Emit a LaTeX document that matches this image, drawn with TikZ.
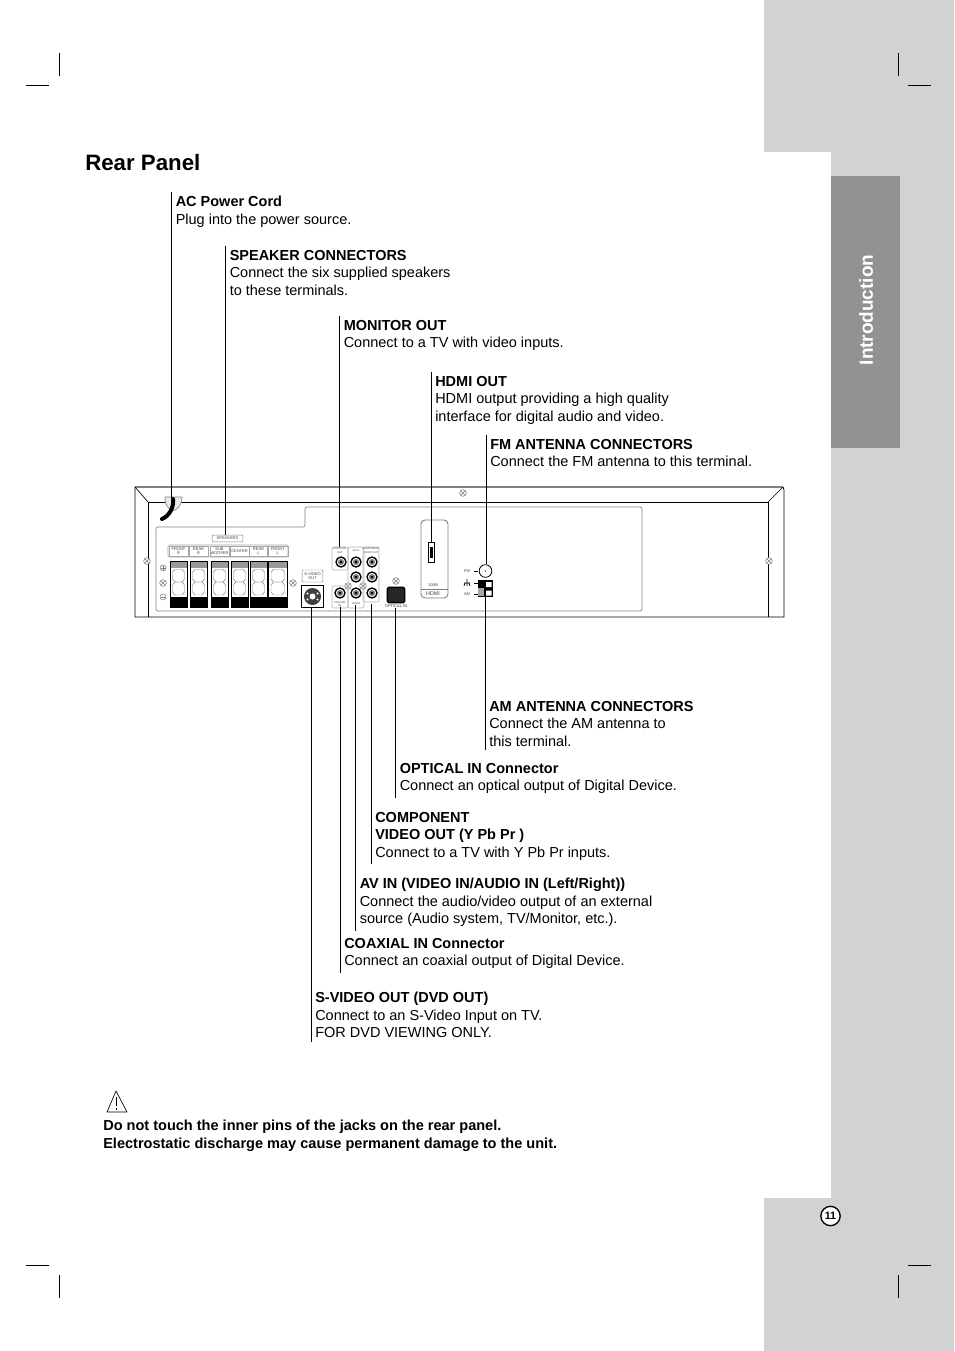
\documentclass[tikz,border=0pt]{standalone}
\usepackage{fontspec}
\setmainfont{Liberation Sans}
\definecolor{pagegray}{HTML}{D2D2D2}
\definecolor{tabgray}{HTML}{929292}
\definecolor{linegray}{HTML}{808080}
\begin{document}
\begin{tikzpicture}[x=0.75pt, y=-0.75pt,
  lead/.style={line width=0.6pt},
  crop/.style={line width=0.5pt},
  info/.style={anchor=north west, align=left, inner xsep=3pt, inner ysep=2.8pt, font=\fontsize{10.87}{13.2}\selectfont},
  warn/.style={anchor=north west, align=left, inner sep=0pt, font=\fontsize{10.9}{12.9}\selectfont\bfseries},
  tiny/.style={inner sep=0pt, align=center, text=black!75, font=\fontsize{3}{3.4}\selectfont},
  tinier/.style={inner sep=0pt, align=center, text=black!75, font=\fontsize{2}{2.5}\selectfont},
  tag/.style={draw=linegray, line width=0.35pt, rounded corners=0.8pt, inner sep=0pt, align=center, text=black!75, font=\fontsize{3}{3.4}\selectfont},
  jack/.style={circle, draw, line width=1pt, fill=white, minimum size=7.5pt, inner sep=0pt},
  screw/.style={circle, draw=linegray, line width=0.4pt, minimum size=5pt, inner sep=0pt, path picture={\draw[linegray, line width=0.4pt] (path picture bounding box.south west) -- (path picture bounding box.north east) (path picture bounding box.north west) -- (path picture bounding box.south east);}},
  panelbox/.style={draw=linegray!60, line width=0.4pt, rounded corners=1.5pt, inner sep=0pt}]
\useasboundingbox (0,0) rectangle (954,1351);
\fill[white] (0,0) rectangle (954,1351);
\fill[pagegray] (764,0) -- (954,0) -- (954,1351) -- (764,1351) -- (764,1198) -- (831,1198) -- (831,152) -- (764,152) -- cycle;
\fill[tabgray] (831,176) rectangle (900,448);
\node[rotate=90, text=white, font=\fontsize{14.2}{18}\selectfont\bfseries] (section) at (866,310) {Introduction};
\foreach \x/\xa in {59/26,898/908} {\draw[crop] (\x,53) -- (\x,76) (\xa,85) -- (\xa+23,85) (\x,1275) -- (\x,1298) (\xa,1265) -- (\xa+23,1265);}
\node[anchor=west, inner sep=0pt, font=\fontsize{16.7}{20}\selectfont\bfseries] (title) at (85,163) {Rear Panel};

\node[info] (aclabel) at (171.5,192) {\textbf{AC Power Cord}\\Plug into the power source.};
\node[info] (spklabel) at (225.5,246) {\textbf{SPEAKER CONNECTORS}\\Connect the six supplied speakers\\to these terminals.};
\node[info] (monlabel) at (339.5,316) {\textbf{MONITOR OUT}\\Connect to a TV with video inputs.};
\node[info] (hdmilabel) at (431,372) {\textbf{HDMI OUT}\\HDMI output providing a high quality\\interface for digital audio and video.};
\node[info] (fmlabel) at (486,435) {\textbf{FM ANTENNA CONNECTORS}\\Connect the FM antenna to this terminal.};
\node[info] (amlabel) at (485,697) {\textbf{AM ANTENNA CONNECTORS}\\Connect the AM antenna to\\this terminal.};
\node[info] (optlabel) at (395.5,759) {\textbf{OPTICAL IN Connector}\\Connect an optical output of Digital Device.};
\node[info] (complabel) at (371,808) {\textbf{COMPONENT}\\\textbf{VIDEO OUT (Y Pb Pr )}\\Connect to a TV with Y Pb Pr inputs.};
\node[info] (avlabel) at (355.5,874) {\textbf{AV IN (VIDEO IN/AUDIO IN (Left/Right))}\\Connect the audio/video output of an external\\source (Audio system, TV/Monitor, etc.).};
\node[info] (coaxlabel) at (340,934) {\textbf{COAXIAL IN Connector}\\Connect an coaxial output of Digital Device.};
\node[info] (svidlabel) at (311,988) {\textbf{S-VIDEO OUT (DVD OUT)}\\Connect to an S-Video Input on TV.\\FOR DVD VIEWING ONLY.};

\draw[linegray, line width=1.2pt] (135,487) -- (783,487);
\draw[line width=0.6pt] (135,487) -- (135,617) -- (784,617) -- (784,490) -- (783,487);
\draw[line width=0.6pt] (148,617) -- (148,502) -- (768,502) -- (768,617);
\draw[line width=0.5pt] (135,487) -- (148,502) (783,487) -- (768,502);
\draw[linegray, line width=0.5pt, rounded corners=1.5pt] (156,611) -- (156,527) -- (305,527) -- (305,507) -- (642,507) -- (642,611) -- cycle;
\foreach \n/\x/\y in {sa/147/561,sb/769/561,sc/463/493,sd/163/583,se/293/583,sf/396/581,sg/348/586,sh/363/586} {\node[screw, fill=white] (\n) at (\x,\y) {};}

\draw[linegray, line width=0.5pt, fill=black!8] (165,497) -- (182,497) .. controls (182,505) and (178,509) .. (173,511) .. controls (168,509) and (165,505) .. (165,497);
\draw[line width=3pt, line cap=round] (173,499) .. controls (174,508) and (169,516) .. (162,519);
\coordinate (plug) at (172,498);

\node[tag, minimum width=23pt, minimum height=5.2pt] (spkhead) at (227.5,538.5) {SPEAKERS};
\draw[linegray!70, line width=0.4pt, rounded corners=1pt] (168,545) rectangle (288,557);
\foreach \n/\xa/\xb/\t in {fr/170/187/{FRONT\\R},rr/190/207/{REAR\\R},sw/211/228/{SUB\\WOOFER},ct/231/248/{CENTER},rl/250/267/{REAR\\L},fl/268.5/287/{FRONT\\L}} {
  \node[tiny] (\n txt) at ({(\xa+\xb)/2},551) {\t};
  \draw[linegray!70, line width=0.3pt] (\xa-1,546) rectangle (\xb+1,556);
  \fill[black!40] (\xa,561) rectangle (\xb,568);
  \fill (\xa,597) rectangle (\xb,607);
  \draw[line width=0.7pt] (\xa,561) rectangle (\xb,607);
  \draw[black!50, line width=0.35pt] (\xa+2.5,572) -- (\xa+5,569.5) -- (\xb-5,569.5) -- (\xb-2.5,572) -- (\xb-2.5,579) -- (\xb-5,582) -- (\xa+5,582) -- (\xa+2.5,579) -- cycle;
  \draw[black!50, line width=0.35pt] (\xa+2.5,585) -- (\xa+5,582) -- (\xb-5,582) -- (\xb-2.5,585) -- (\xb-2.5,592) -- (\xb-5,595) -- (\xa+5,595) -- (\xa+2.5,592) -- cycle;
}
\node[circle, draw=linegray, line width=0.4pt, minimum size=4.5pt, inner sep=0pt] (plusmark) at (163,568) {};
\draw[linegray, line width=0.4pt] (160.5,568) -- (165.5,568) (163,565.5) -- (163,570.5);
\node[circle, draw=linegray, line width=0.4pt, minimum size=4.5pt, inner sep=0pt] (minusmark) at (163,597) {};
\draw[linegray, line width=0.4pt] (160.5,597) -- (165.5,597);

\node[tag, minimum width=15.5pt, minimum height=9pt] (svidhead) at (312.5,576) {S-VIDEO\\OUT};
\node[draw, line width=1pt, fill=white, minimum size=16.5pt, inner sep=0pt] (svid) at (312.5,596.5) {};
\fill[black!75] (svid.center) circle (8.5);
\fill[white] (312.5,596.5) circle (3);
\foreach \dx/\dy in {-5/-3,5/-3,-5/3,5/3} {\fill[white] (312.5+\dx,596.5+\dy) circle (1.2);}

\draw[panelbox] (332,547) rectangle (348,570);
\draw[panelbox] (332,586) rectangle (348,608);
\draw[panelbox] (348,547) rectangle (364,608);
\draw[panelbox] (363,547) rectangle (379,602);
\coordinate (monbox) at (339,547);
\node[tinier] (montxt) at (340,550.5) {MONITOR\\OUT};
\node[tinier] (avtxt) at (356,550.5) {AV IN};
\node[tinier] (comptxt) at (371,550.5) {COMPONENT\\VIDEO OUT};
\node[tinier] (coaxtxt) at (340,604) {COAXIAL\\IN};
\node[tinier] (vidtxt) at (356,604) {VIDEO};
\foreach \n/\x/\y in {monjack/341/562,ava/356/562,avb/356/577,avc/356/593,compa/372/562,compb/372/577,compc/372/593,coaxjack/340/593} {
  \node[jack] (\n) at (\x,\y) {};
  \fill[black!45] (\x,\y) circle (3.2);
  \fill (\x,\y) circle (1.6);
}

\node[fill=black!85, draw, line width=1pt, rounded corners=1pt, minimum width=13pt, minimum height=11.5pt, inner sep=0pt] (optical) at (396,595) {};
\node[tiny] (opttxt) at (396,606) {OPTICAL IN};

\draw[line width=0.7pt, draw=linegray, rounded corners=3pt] (421,520) rectangle (448,598);
\draw[linegray, line width=0.5pt] (421,589) -- (448,589);
\node[draw, line width=0.7pt, fill=white, minimum width=4.5pt, minimum height=15.5pt, inner sep=0pt] (hdmiport) at (431,552.5) {};
\fill (430,547) rectangle (432.5,558);
\node[tiny] (hdmires) at (433,585.5) {1080i};
\node[tiny, font=\fontsize{4}{4.5}\selectfont] (hdmitxt) at (433,594) {HDMI};

\node[circle, draw, line width=0.6pt, minimum size=9.5pt, inner sep=0pt] (fmjack) at (485.5,571) {};
\fill (485.5,571) circle (0.7);
\node[tiny] (fmtxt) at (467,571) {FM};
\node[tiny] (amtxt) at (467,594) {AM};
\draw[line width=0.6pt] (474,571) -- (478,571) (474,583) -- (478,583) (474,594) -- (478,594);
\draw[line width=0.5pt] (467,579) -- (467,583) (464,583) -- (470,583) (465,583) -- (464,586) (467,583) -- (467,586) (469,583) -- (470,586);
\node[fill=black, minimum width=11.2pt, minimum height=12.7pt, inner sep=0pt] (amterm) at (485.5,588.5) {};
\draw[fill=black!35, draw=none] (478,587.5) rectangle (484,596);
\fill[white] (486,582) rectangle (491.5,587) (486,590.5) rectangle (491.5,595.5);

\draw[lead] (aclabel.north west) -- (aclabel.north west |- plug);
\draw[lead] (spklabel.north west) -- (spklabel.north west |- spkhead.north);
\draw[lead] (monlabel.north west) -- (monlabel.north west |- monbox);
\draw[lead] (hdmilabel.north west) -- (hdmilabel.north west |- hdmiport.north);
\draw[lead] (fmlabel.north west) -- (fmlabel.north west |- fmjack.north);
\draw[lead] (amterm.south -| amlabel.west) -- (amlabel.south west);
\draw[lead] (opttxt.south -| optlabel.west) -- (optlabel.south west);
\draw[lead] (compc.south -| complabel.west) ++(0,5) -- (complabel.south west);
\draw[lead] (vidtxt.south -| avlabel.west) -- (avlabel.south west);
\draw[lead] (coaxtxt.south -| coaxlabel.west) -- (coaxlabel.south west);
\draw[lead] (svid.south -| svidlabel.west) -- (svidlabel.south west);

\draw[line width=0.5pt, line join=round] (116,1091) -- (127,1112) -- (107,1112) -- cycle;
\draw[line width=1pt] (116.5,1097) -- (116.5,1106) (116.5,1108) -- (116.5,1109.5);
\node[warn] (warntext) at (103,1120) {Do not touch the inner pins of the jacks on the rear panel.\\Electrostatic discharge may cause permanent damage to the unit.};
\node[circle, draw, fill=white, line width=1pt, minimum size=14.5pt, inner sep=0pt, font=\fontsize{8}{9}\selectfont\bfseries] (pagenum) at (830.5,1216) {11};
\end{tikzpicture}
\end{document}
